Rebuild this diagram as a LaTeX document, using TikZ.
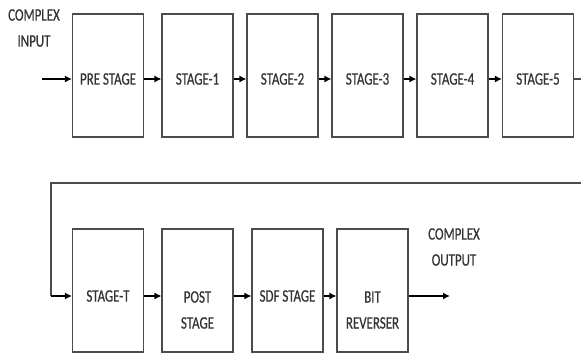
\documentclass[tikz,border=0pt]{standalone}
\usepackage{fontspec}
\setmainfont{Carlito}[FakeStretch=0.74,FakeBold=0.6]
\usetikzlibrary{arrows.meta}

\tikzset{
  box/.style={draw=black!70,line width=1.2pt,minimum width=71pt,minimum height=123pt,inner sep=0pt},
  lbl/.style={font=\fontsize{17.5}{26}\selectfont,text=black!80,align=center,inner sep=0pt},
  arr/.style={line width=1.2pt,-{Latex[length=7pt,width=7pt]}},
  wire/.style={line width=1.2pt,draw=black!70}
}

\begin{document}
\begin{tikzpicture}[x=1pt,y=1pt]
	\useasboundingbox (0,0) rectangle (581,353);
	% top row
	\node[box] (pre) at (108,277.5) {};
	\node[box] (s1) at (197.5,277.5) {};
	\node[box] (s2) at (282.5,277.5) {};
	\node[box] (s3) at (367.5,277.5) {};
	\node[box] (s4) at (452.5,277.5) {};
	\node[box] (s5) at (538,277.5) {};
	\node[lbl] (pre-t) at (108,274) {PRE STAGE};
	\node[lbl] (s1-t) at (197.5,274) {STAGE-1};
	\node[lbl] (s2-t) at (282.5,274) {STAGE-2};
	\node[lbl] (s3-t) at (367.5,274) {STAGE-3};
	\node[lbl] (s4-t) at (452.5,274) {STAGE-4};
	\node[lbl] (s5-t) at (538,274) {STAGE-5};
	\node[lbl] (in-t) at (34,325) {COMPLEX\\INPUT};
	% bottom row
	\node[box] (st) at (108,62.5) {};
	\node[box] (post) at (197.5,62.5) {};
	\node[box] (sdf) at (287.5,62.5) {};
	\node[box] (bit) at (372.5,62.5) {};
	\node[lbl] (st-t) at (108,57) {STAGE-T};
	\node[lbl] (post-t) at (197.5,43) {POST\\STAGE};
	\node[lbl] (sdf-t) at (287.5,57) {SDF STAGE};
	\node[lbl] (bit-t) at (372.5,43) {BIT\\REVERSER};
	\node[lbl] (out-t) at (454,106) {COMPLEX\\OUTPUT};
	% connectors
	\coordinate (in) at (42,274);
	\coordinate (exit) at (581,274);
	\coordinate (fbR) at (581,170);
	\coordinate (fbL) at (51,170);
	\coordinate (out) at (450,57);
	\draw[arr] (in) -- (in -| pre.west);
	\draw[arr] (pre-t -| pre.east) -- (pre-t -| s1.west);
	\draw[arr] (s1-t -| s1.east) -- (s1-t -| s2.west);
	\draw[arr] (s2-t -| s2.east) -- (s2-t -| s3.west);
	\draw[arr] (s3-t -| s3.east) -- (s3-t -| s4.west);
	\draw[arr] (s4-t -| s4.east) -- (s4-t -| s5.west);
	\draw[wire] (s5-t -| s5.east) -- (exit);
	\draw[wire] (fbR) -- (fbL) -- (fbL |- st-t);
	\draw[arr] (fbL |- st-t) -- (st-t -| st.west);
	\draw[arr] (st-t -| st.east) -- (st-t -| post.west);
	\draw[arr] (st-t -| post.east) -- (st-t -| sdf.west);
	\draw[arr] (st-t -| sdf.east) -- (st-t -| bit.west);
	\draw[arr] (bit.east |- out) -- (out);
\end{tikzpicture}
\end{document}
